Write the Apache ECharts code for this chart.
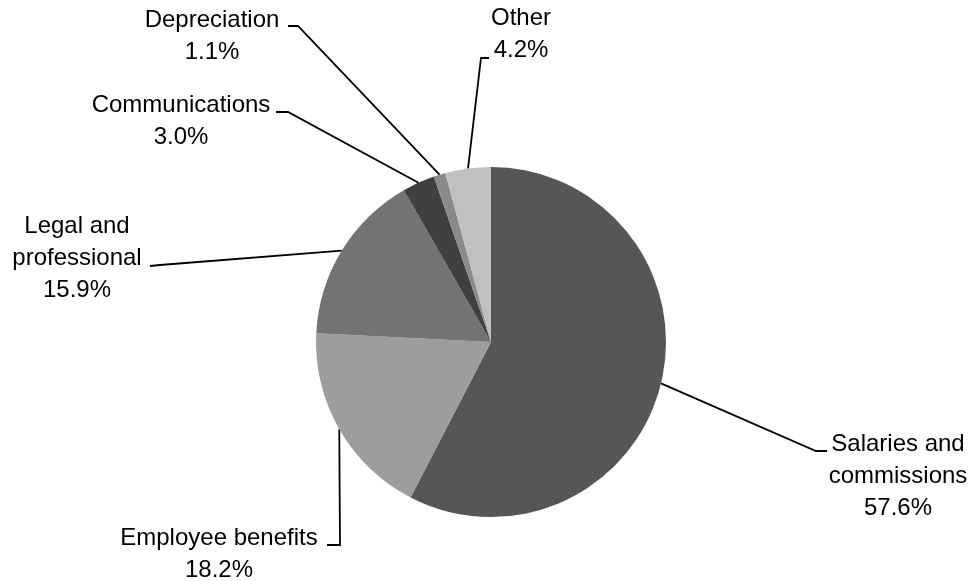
<!DOCTYPE html>
<html>
<head>
<meta charset="utf-8">
<script src="https://cdn.jsdelivr.net/npm/echarts@6/dist/echarts.min.js"></script>
<style>
html,body{margin:0;padding:0;background:#fff;}
#chart{width:970px;height:581px;}
</style>
</head>
<body>
<div id="chart"></div>
<script>
// ---- data ----
const categories = ['Salaries and commissions', 'Employee benefits', 'Legal and professional', 'Communications', 'Depreciation', 'Other'];
const labelNames = ['Salaries and\ncommissions', 'Employee benefits', 'Legal and\nprofessional', 'Communications', 'Depreciation', 'Other'];
const values = [57.6, 18.2, 15.9, 3.0, 1.1, 4.2];

// ---- styles / layout ----
const colors = ['#565656', '#9d9d9d', '#737373', '#404040', '#8a8a8a', '#c0c0c0'];
// label box (center x, top y) plus leader bend and tick end
const labelLayouts = [
  { x: 898, y: 428, bend: [816, 451], tick: [827, 451] },
  { x: 219, y: 522, bend: [340, 545], tick: [327, 545] },
  { x: 77,  y: 210, bend: [160, 265], tick: [150, 266] },
  { x: 181, y: 89,  bend: [288, 112], tick: [276, 112] },
  { x: 212, y: 4,   bend: [298, 26],  tick: [288, 26] },
  { x: 521, y: 2,   bend: [481, 58],  tick: [489, 58] }
];

const chart = echarts.init(document.getElementById('chart'), null, { renderer: 'canvas' });
chart.setOption({
  animation: false,
  backgroundColor: '#fff',
  series: [{
    type: 'pie',
    center: [491, 342],
    radius: 175,
    startAngle: 90,
    clockwise: true,
    avoidLabelOverlap: false,
    silent: true,
    color: colors,
    itemStyle: { borderWidth: 0 },
    data: categories.map((c, i) => ({ name: c, value: values[i] })),
    label: {
      show: true,
      position: 'outside',
      formatter: p => labelNames[p.dataIndex] + '\n' + values[p.dataIndex].toFixed(1) + '%',
      fontFamily: 'Liberation Sans',
      fontSize: 24,
      lineHeight: 32,
      color: '#000',
      align: 'center'
    },
    labelLine: {
      show: true,
      length: 20,
      length2: 10,
      lineStyle: { color: '#000', width: 1.8 }
    },
    labelLayout: function (params) {
      const L = labelLayouts[params.dataIndex];
      const start = params.labelLinePoints ? params.labelLinePoints[0] : L.bend;
      return {
        x: L.x,
        y: L.y,
        align: 'center',
        verticalAlign: 'top',
        labelLinePoints: [start, L.bend, L.tick]
      };
    }
  }]
});
</script>
</body>
</html>
